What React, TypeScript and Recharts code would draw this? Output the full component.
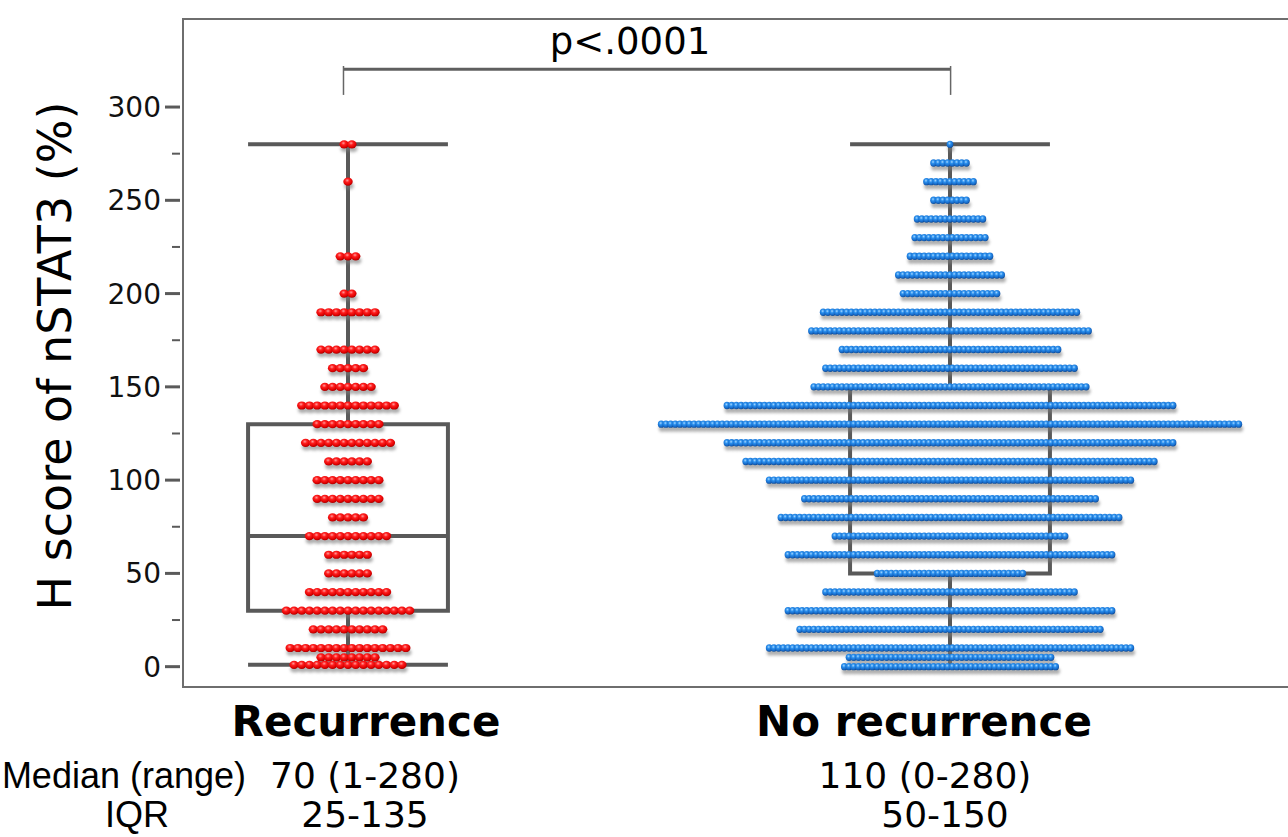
import { ScatterChart, Scatter, XAxis, YAxis, ReferenceArea, ReferenceLine } from 'recharts'

// y axis ticks (labels only every 50)
const Y_TICKS = [0, 25, 50, 75, 100, 125, 150, 175, 200, 225, 250, 275, 300]

const CATEGORIES = ['Recurrence', 'No recurrence']
const MEDIAN_RANGE = ['70 (1-280)', '110 (0-280)']
const IQR_RANGE = ['25-135', '50-150']

// dot rows: H score value -> number of patients
const recurrenceValues = [1, 5, 10, 20, 30, 40, 50, 60, 70, 80, 90, 100, 110, 120, 130, 140, 150, 160, 170, 190, 200, 220, 260, 280]
const recurrenceCounts = [15, 8, 16, 10, 17, 11, 6, 6, 11, 5, 9, 9, 6, 12, 9, 13, 7, 5, 8, 8, 2, 3, 1, 2]

const noRecurrenceValues = [0, 5, 10, 20, 30, 40, 50, 60, 70, 80, 90, 100, 110, 120, 130, 140, 150, 160, 170, 180, 190, 200, 210, 220, 230, 240, 250, 260, 270, 280]
const noRecurrenceCounts = [46, 44, 78, 65, 70, 54, 32, 70, 50, 73, 63, 78, 88, 96, 124, 96, 59, 54, 47, 60, 55, 21, 23, 18, 16, 15, 8, 11, 8, 1]

// [low whisker, q1, median, q3, high whisker]
const recurrenceBox = [1, 30, 70, 130, 280]
const noRecurrenceBox = [0, 50, 110, 150, 280]

const P_LABEL = 'p<.0001'

// layout
const X_DOMAIN = [0.72591, 2.61462]
const Y_DOMAIN = [-10.9, 347.2]
const RED_STEP = 0.0128
const BLUE_STEP = 0.0078
const HALF_BOX = 0.166
const BOX_COLOR = '#595959'
const NAME_DX = [18, -26]
const MED_DX = [17, -25]
const IQR_DX = [17, -5]
const FONT = '"DejaVu Sans", Verdana, sans-serif'

function buildRows(center: number, values: number[], counts: number[], step: number) {
  const pts: { x: number; y: number }[] = []
  values.forEach((v, r) => {
    const n = counts[r]
    for (let i = 0; i < n; i++) pts.push({ x: center + (i - (n - 1) / 2) * step, y: v })
  })
  return pts
}

const redPoints = buildRows(1, recurrenceValues, recurrenceCounts, RED_STEP)
const bluePoints = buildRows(2, noRecurrenceValues, noRecurrenceCounts, BLUE_STEP)

const RedDot = (p: any) => <ellipse cx={p.cx} cy={p.cy} rx={4.7} ry={4.1} fill="url(#dotRed)" />
const BlueDot = (p: any) => <ellipse cx={p.cx} cy={p.cy} rx={3.4} ry={3.7} fill="url(#dotBlue)" />
const RedShadow = (p: any) => <ellipse cx={p.cx + 1} cy={p.cy + 4.5} rx={4.7} ry={3.3} fill="#7a7a7a" />
const BlueShadow = (p: any) => <ellipse cx={p.cx + 1} cy={p.cy + 4.5} rx={3.4} ry={3.1} fill="#7a7a7a" />

function YTick({ x, y, payload }: any) {
  const v = payload.value
  const major = v % 50 === 0
  return (
    <g>
      <line x1={x - (major ? 18 : 11)} x2={x - 3} y1={y} y2={y} stroke="#5a5a5a" strokeWidth={major ? 3 : 2} />
      {major && (
        <text x={x - 22} y={y + 10} textAnchor="end" fontSize={28} fontFamily={FONT} fill="#111">
          {v}
        </text>
      )}
    </g>
  )
}

function XTick({ x, y, payload }: any) {
  const i = Math.round(payload.value) - 1
  if (i < 0 || i > 1) return null
  return (
    <g fontFamily={FONT} fill="#000" textAnchor="middle">
      <text x={x + NAME_DX[i]} y={y + 49} fontSize={42} fontWeight="bold">{CATEGORIES[i]}</text>
      <text x={x + MED_DX[i]} y={y + 101} fontSize={36}>{MEDIAN_RANGE[i]}</text>
      <text x={x + IQR_DX[i]} y={y + 140} fontSize={36}>{IQR_RANGE[i]}</text>
    </g>
  )
}

function boxParts(key: string, center: number, stats: number[]) {
  const [lo, q1, med, q3, hi] = stats
  const l = center - HALF_BOX
  const r = center + HALF_BOX
  const line = { stroke: BOX_COLOR, strokeWidth: 4, ifOverflow: 'visible' as const }
  return [
    <ReferenceLine key={key + 'w1'} segment={[{ x: center, y: lo }, { x: center, y: q1 }]} {...line} />,
    <ReferenceLine key={key + 'w2'} segment={[{ x: center, y: q3 }, { x: center, y: hi }]} {...line} />,
    <ReferenceLine key={key + 'c1'} segment={[{ x: l, y: lo }, { x: r, y: lo }]} {...line} />,
    <ReferenceLine key={key + 'c2'} segment={[{ x: l, y: hi }, { x: r, y: hi }]} {...line} />,
    <ReferenceArea key={key + 'box'} x1={l} x2={r} y1={q1} y2={q3} fill="none" stroke={BOX_COLOR} strokeWidth={4} ifOverflow="visible" />,
    <ReferenceLine key={key + 'med'} segment={[{ x: l, y: med }, { x: r, y: med }]} {...line} />,
  ]
}

export default function App() {
  return (
    <div style={{ position: 'relative', width: 1288, height: 837, overflow: 'hidden', background: '#fff' }}>
      <style>{'body{margin:0;overflow:hidden}.dot-shadow{filter:blur(1.6px);opacity:.6}'}</style>
      <svg width={0} height={0} style={{ position: 'absolute' }}>
        <defs>
          <radialGradient id="dotRed" cx="0.42" cy="0.35" r="0.65">
            <stop offset="0" stopColor="#ff9c9c" />
            <stop offset="0.35" stopColor="#ff1e1e" />
            <stop offset="0.8" stopColor="#dc0000" />
            <stop offset="1" stopColor="#a80000" />
          </radialGradient>
          <radialGradient id="dotBlue" cx="0.42" cy="0.35" r="0.65">
            <stop offset="0" stopColor="#a6d6ff" />
            <stop offset="0.35" stopColor="#2a90ee" />
            <stop offset="0.8" stopColor="#1566c4" />
            <stop offset="1" stopColor="#0c4890" />
          </radialGradient>
        </defs>
      </svg>
      <ScatterChart width={1320} height={837} margin={{ top: 19, right: 0, bottom: 0, left: 0 }}>
        <XAxis
          type="number"
          dataKey="x"
          domain={X_DOMAIN}
          allowDataOverflow
          ticks={[1, 2]}
          interval={0}
          tick={<XTick />}
          tickSize={0}
          tickMargin={0}
          tickLine={false}
          axisLine={false}
          height={150}
          label={{
            content: ({ viewBox }: any) => (
              <g fontFamily='"Liberation Sans", Arial, sans-serif' fill="#000" fontSize={36}>
                <text x={viewBox.x + 63} y={viewBox.y + 101} textAnchor="end">Median (range)</text>
                <text x={viewBox.x - 46} y={viewBox.y + 140} textAnchor="middle">IQR</text>
              </g>
            ),
          }}
        />
        <YAxis
          type="number"
          dataKey="y"
          domain={Y_DOMAIN}
          allowDataOverflow
          ticks={Y_TICKS}
          interval={0}
          tick={<YTick />}
          tickSize={0}
          tickMargin={0}
          tickLine={false}
          axisLine={false}
          width={183}
          label={{
            content: ({ viewBox }: any) => {
              const cx = viewBox.x + 71
              const cy = viewBox.y + viewBox.height / 2 + 3
              return (
                <text x={cx} y={cy} transform={`rotate(-90 ${cx} ${cy})`} textAnchor="middle" fontSize={46} fontFamily={FONT} fill="#000">
                  H score of nSTAT3 (%)
                </text>
              )
            },
          }}
        />
        <ReferenceArea x1={X_DOMAIN[0]} x2={X_DOMAIN[1]} y1={Y_DOMAIN[0]} y2={Y_DOMAIN[1]} fill="none" stroke="#6e6e6e" strokeWidth={2} ifOverflow="visible" />
        <Scatter data={redPoints} shape={RedShadow} className="dot-shadow" isAnimationActive={false} />
        <Scatter data={bluePoints} shape={BlueShadow} className="dot-shadow" isAnimationActive={false} />
        <Scatter data={redPoints} shape={RedDot} isAnimationActive={false} />
        <Scatter data={bluePoints} shape={BlueDot} isAnimationActive={false} />
        {boxParts('rec', 1, recurrenceBox)}
        {boxParts('norec', 2, noRecurrenceBox)}
        <ReferenceLine
          segment={[{ x: 0.9925, y: 320.3 }, { x: 2.001, y: 320.3 }]}
          stroke="#5f5f5f"
          strokeWidth={3}
          ifOverflow="visible"
          label={{
            content: ({ viewBox }: any) => (
              <text x={viewBox.x + viewBox.width / 2 - 17} y={viewBox.y - 15} textAnchor="middle" fontSize={37} fontFamily={FONT} fill="#000">
                {P_LABEL}
              </text>
            ),
          }}
        />
        <ReferenceLine segment={[{ x: 0.9925, y: 322 }, { x: 0.9925, y: 306.5 }]} stroke="#666" strokeWidth={1.5} ifOverflow="visible" />
        <ReferenceLine segment={[{ x: 2.001, y: 322 }, { x: 2.001, y: 306.5 }]} stroke="#666" strokeWidth={1.5} ifOverflow="visible" />
      </ScatterChart>
    </div>
  )
}
